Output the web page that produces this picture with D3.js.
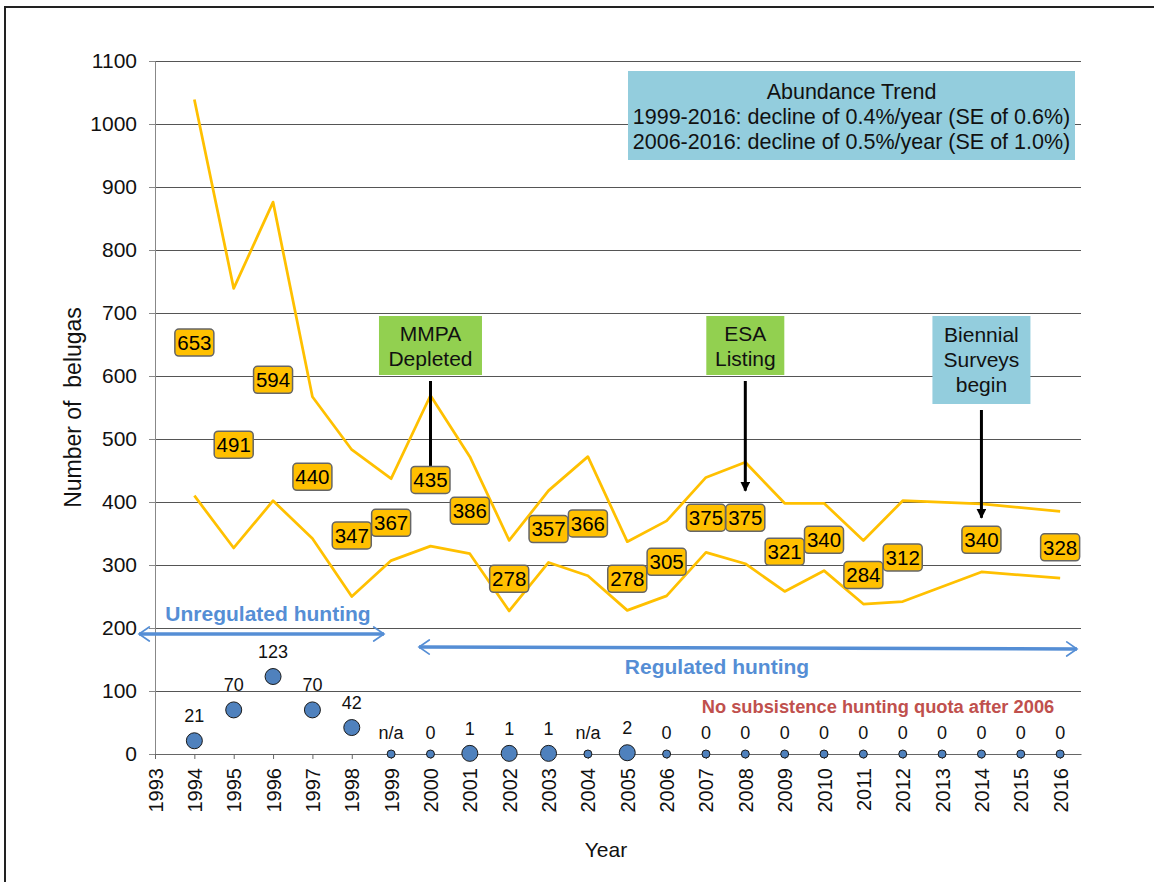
<!DOCTYPE html>
<html>
<head>
<meta charset="utf-8">
<script src="https://cdn.jsdelivr.net/npm/d3@7"></script>
<style>
  body { margin: 0; background: #fff; }
  svg { font-family: "Liberation Sans", Arial, sans-serif; }
</style>
</head>
<body>
<div id="chart"></div>
<script>
// survey years (1994-2016), estimates and 95% CI bounds
const years = d3.range(1994, 2017);
const estimates = [653, 491, 594, 440, 347, 367, 435, 386, 278, 357, 366, 278, 305, 375, 375, 321, 340, 284, 312, null, 340, null, 328];
const upperCI = [1039, 739, 876, 567, 483, 437, 569, 472, 339, 418, 472, 337, 370, 439, 463, 398, 398, 339, 402, null, 397, null, 385];
const lowerCI = [410, 327, 402, 342, 250, 307, 330, 318, 227, 304, 283, 228, 251, 320, 302, 258, 291, 238, 242, null, 289, null, 279];
// subsistence harvest, null = n/a
const harvest = [21, 70, 123, 70, 42, null, 0, 1, 1, 1, null, 2, 0, 0, 0, 0, 0, 0, 0, 0, 0, 0, 0];

const yTicks = d3.range(0, 1101, 100);
const xTicks = d3.range(1993, 2017);

const trendLines = [
  'Abundance Trend',
  '1999-2016: decline of 0.4%/year (SE of 0.6%)',
  '2006-2016: decline of 0.5%/year (SE of 1.0%)'
];
const events = [
  { year: 2000, lines: ['MMPA', 'Depleted'], fill: '#92D050', boxW: 103, arrowTo: 435 },
  { year: 2008, lines: ['ESA', 'Listing'], fill: '#92D050', boxW: 78, arrowTo: 418 },
  { year: 2014, lines: ['Biennial', 'Surveys', 'begin'], fill: '#93CDDD', boxW: 98, arrowTo: 375 }
];

const width = 1154, height = 882;
const x = d3.scaleLinear().domain([1993, 2016.53]).range([155, 1081]);
const y = d3.scaleLinear().domain([0, 1100]).range([754, 61]);

const svg = d3.select('#chart').append('svg')
  .attr('width', width)
  .attr('height', height);

// frame
svg.append('rect')
  .attr('x', 5).attr('y', 7)
  .attr('width', 1300).attr('height', 1000)
  .attr('fill', 'none')
  .attr('stroke', '#222')
  .attr('stroke-width', 2);

const defs = svg.append('defs');
defs.append('marker')
  .attr('id', 'blackHead')
  .attr('viewBox', '0 0 10 10')
  .attr('refX', 9).attr('refY', 5)
  .attr('markerWidth', 3.3).attr('markerHeight', 3.3)
  .attr('markerUnits', 'strokeWidth')
  .attr('orient', 'auto')
  .append('path').attr('d', 'M0,0 L10,5 L0,10 z').attr('fill', '#000');
defs.append('marker')
  .attr('id', 'blueHead')
  .attr('viewBox', '0 0 12 12')
  .attr('refX', 10).attr('refY', 6)
  .attr('markerWidth', 4.4).attr('markerHeight', 4.4)
  .attr('markerUnits', 'strokeWidth')
  .attr('orient', 'auto-start-reverse')
  .append('path').attr('d', 'M2,0.5 L10,6 L2,11.5')
  .attr('fill', 'none').attr('stroke', '#558ED5').attr('stroke-width', 1.3)
  .attr('stroke-linecap', 'round');

// gridlines
svg.append('g')
  .attr('transform', `translate(${x(1993)},0)`)
  .call(d3.axisLeft(y).tickValues(yTicks.slice(1)).tickSize(-(x.range()[1] - x(1993))).tickFormat(''))
  .call(g => g.select('.domain').remove())
  .call(g => g.selectAll('line').attr('stroke', '#555').attr('stroke-width', 1));

// y axis
svg.append('g')
  .attr('transform', `translate(${x(1993)},0)`)
  .call(d3.axisLeft(y).tickValues(yTicks).tickFormat(d3.format('d')).tickSize(6).tickPadding(12))
  .call(g => g.select('.domain').attr('stroke', '#888'))
  .call(g => g.selectAll('line').attr('stroke', '#888'))
  .call(g => g.selectAll('text').attr('font-size', 21).attr('fill', '#111')
    .attr('font-family', '"Liberation Sans", Arial, sans-serif'));

// x axis
svg.append('g')
  .attr('transform', `translate(0,${y(0)})`)
  .call(d3.axisBottom(x).tickValues(xTicks).tickFormat(d3.format('d')).tickSize(5).tickSizeOuter(0))
  .call(g => g.select('.domain').attr('stroke', '#666'))
  .call(g => g.selectAll('line').attr('stroke', '#666'))
  .call(g => g.selectAll('text')
    .attr('font-size', 20).attr('fill', '#111')
    .attr('font-family', '"Liberation Sans", Arial, sans-serif')
    .attr('text-anchor', 'end')
    .attr('transform', 'rotate(-90)')
    .attr('x', -14).attr('y', 0).attr('dy', '0.35em'));

// axis titles
svg.append('text')
  .attr('transform', `translate(73,${(303 + 512) / 2}) rotate(-90)`)
  .attr('text-anchor', 'middle').attr('dy', '0.35em')
  .attr('font-size', 23).attr('fill', '#111')
  .style('white-space', 'pre')
  .text('Number of  belugas');
svg.append('text')
  .attr('x', 606).attr('y', 850)
  .attr('text-anchor', 'middle').attr('dy', '0.35em')
  .attr('font-size', 21).attr('fill', '#111')
  .text('Year');

// CI lines
const rows = years.map((yr, i) => ({ year: yr, est: estimates[i], up: upperCI[i], lo: lowerCI[i], harv: harvest[i] }));
const lineUp = d3.line().x(d => x(d.year)).y(d => y(d.up));
const lineLo = d3.line().x(d => x(d.year)).y(d => y(d.lo));
svg.append('path')
  .attr('d', lineUp(rows.filter(d => d.up != null)))
  .attr('fill', 'none').attr('stroke', '#FFC000').attr('stroke-width', 2.75).attr('stroke-linejoin', 'round');
svg.append('path')
  .attr('d', lineLo(rows.filter(d => d.lo != null)))
  .attr('fill', 'none').attr('stroke', '#FFC000').attr('stroke-width', 2.75).attr('stroke-linejoin', 'round');

// abundance trend box
svg.append('rect')
  .attr('x', 628).attr('y', 71).attr('width', 447).attr('height', 89)
  .attr('fill', '#93CDDD');
svg.selectAll('.trend-text')
  .data(trendLines)
  .join('text')
  .attr('class', 'trend-text')
  .attr('x', 851.5).attr('y', (d, i) => 91 + i * 25)
  .attr('dy', '0.35em').attr('text-anchor', 'middle')
  .attr('font-size', 21.5).attr('fill', '#111')
  .text(d => d);

// event boxes + arrows
events.forEach(ev => {
  const cx = x(ev.year);
  const n = ev.lines.length;
  const boxH = n === 3 ? 88 : 59;
  svg.append('rect')
    .attr('x', cx - ev.boxW / 2).attr('y', 316)
    .attr('width', ev.boxW).attr('height', boxH)
    .attr('fill', ev.fill);
  svg.selectAll(null)
    .data(ev.lines)
    .join('text')
    .attr('x', cx).attr('y', (d, i) => (n === 3 ? 335 : 334) + i * 25)
    .attr('dy', '0.35em').attr('text-anchor', 'middle')
    .attr('font-size', 21).attr('fill', '#111')
    .text(d => d);
  svg.append('line')
    .attr('x1', cx).attr('x2', cx)
    .attr('y1', 316 + boxH + 6).attr('y2', y(ev.arrowTo))
    .attr('stroke', '#000').attr('stroke-width', 3)
    .attr('marker-end', 'url(#blackHead)');
});

// estimate labels
const labels = svg.selectAll('.est')
  .data(rows.filter(d => d.est != null))
  .join('g')
  .attr('class', 'est')
  .attr('transform', d => `translate(${x(d.year)},${y(d.est)})`);
labels.append('rect')
  .attr('x', -19.5).attr('y', -13.5)
  .attr('width', 39).attr('height', 27)
  .attr('rx', 4)
  .attr('fill', '#FFC000').attr('stroke', '#666').attr('stroke-width', 1.5);
labels.append('text')
  .attr('text-anchor', 'middle').attr('dy', '0.36em')
  .attr('font-size', 20.5).attr('fill', '#000')
  .text(d => d.est);

// hunting periods
svg.append('line')
  .attr('x1', 139).attr('x2', 384).attr('y1', 634).attr('y2', 634)
  .attr('stroke', '#558ED5').attr('stroke-width', 3.5)
  .attr('marker-start', 'url(#blueHead)').attr('marker-end', 'url(#blueHead)');
svg.append('text')
  .attr('x', 268).attr('y', 614).attr('dy', '0.35em')
  .attr('text-anchor', 'middle').attr('font-size', 21).attr('font-weight', 'bold')
  .attr('fill', '#558ED5')
  .text('Unregulated hunting');
svg.append('line')
  .attr('x1', 419).attr('x2', 1077).attr('y1', 647).attr('y2', 649)
  .attr('stroke', '#558ED5').attr('stroke-width', 3.5)
  .attr('marker-start', 'url(#blueHead)').attr('marker-end', 'url(#blueHead)');
svg.append('text')
  .attr('x', 717).attr('y', 667).attr('dy', '0.35em')
  .attr('text-anchor', 'middle').attr('font-size', 21).attr('font-weight', 'bold')
  .attr('fill', '#558ED5')
  .text('Regulated hunting');
svg.append('text')
  .attr('x', 878).attr('y', 707).attr('dy', '0.35em')
  .attr('text-anchor', 'middle').attr('font-size', 18.3).attr('font-weight', 'bold')
  .attr('fill', '#C0504D')
  .text('No subsistence hunting quota after 2006');

// harvest points
const rOf = d => (d.harv != null && d.harv > 0 ? 8 : 4);
svg.selectAll('.harv')
  .data(rows)
  .join('circle')
  .attr('class', 'harv')
  .attr('cx', d => x(d.year))
  .attr('cy', d => y(d.harv == null ? 0 : d.harv))
  .attr('r', rOf)
  .attr('fill', '#4F81BD').attr('stroke', '#1a1a1a').attr('stroke-width', 1);
svg.selectAll('.harv-label')
  .data(rows)
  .join('text')
  .attr('class', 'harv-label')
  .attr('x', d => x(d.year))
  .attr('y', d => y(d.harv == null ? 0 : d.harv) - rOf(d) - 17)
  .attr('dy', '0.35em').attr('text-anchor', 'middle')
  .attr('font-size', 18).attr('fill', '#111')
  .text(d => d.harv == null ? 'n/a' : d.harv);
</script>
</body>
</html>
